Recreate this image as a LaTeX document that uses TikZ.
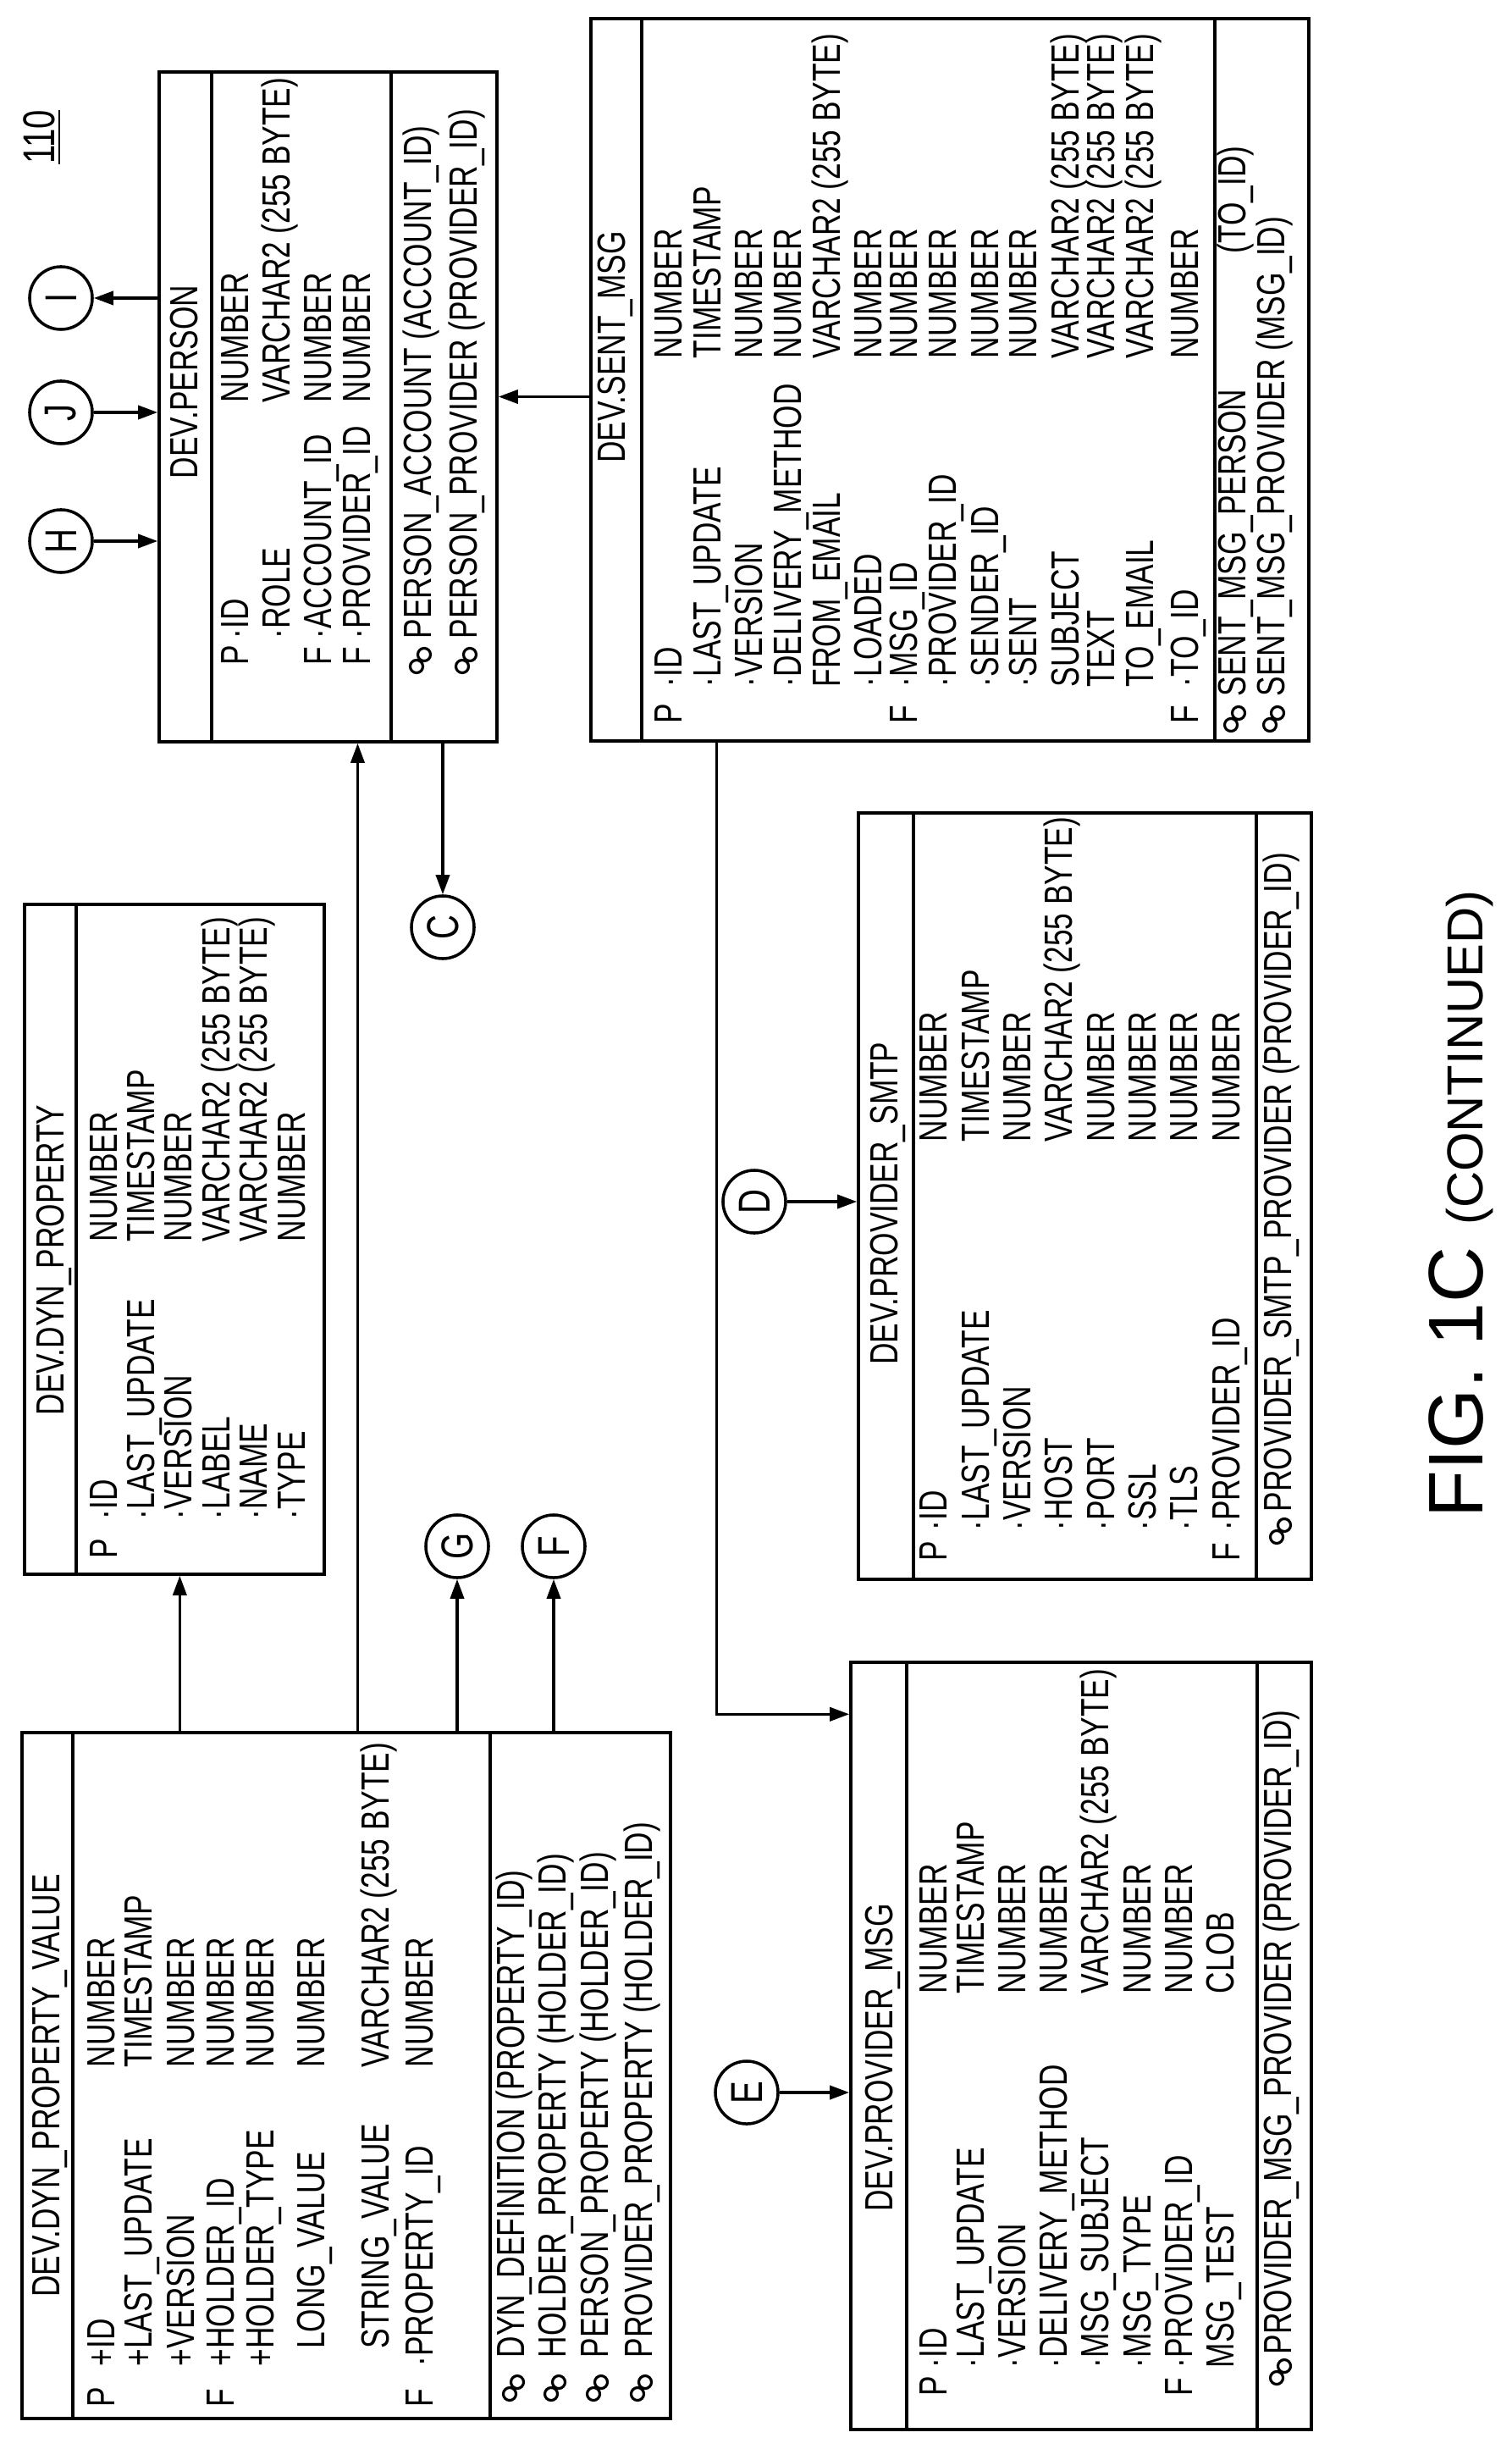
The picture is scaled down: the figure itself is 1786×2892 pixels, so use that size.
\documentclass[tikz,border=0pt]{standalone}
\usepackage{fontspec}
\setmainfont{Liberation Sans}[FakeStretch=0.76]
\newfontfamily\figfont{Liberation Sans}
\usetikzlibrary{positioning,shapes,fit,arrows.meta}
\tikzset{tbl/.style={draw,line width=1pt,inner sep=0pt},
  txt/.style={rotate=90,anchor=west,inner sep=0pt,text height=0.72em,text depth=0pt,font=\fontsize{13.2}{15}\selectfont},
  ttl/.style={txt,anchor=center},
  conn/.style={draw,circle,line width=1pt,minimum size=0.74cm,inner sep=0pt,font=\fontsize{15}{17}\selectfont},
  link/.style={line width=1pt,-{Triangle[length=2.3mm,width=1.6mm]}},
  sep/.style={line width=1pt}}
\newcommand{\keyicon}[2]{\draw[line width=0.9pt] (#1-5,#2+8) circle[radius=0.075cm] (#1+4,#2-6) circle[radius=0.075cm];}
\newcommand{\rl}[1]{\rotatebox{90}{#1}}

\begin{document}
\begin{tikzpicture}[x=0.01cm,y=-0.01cm]
\useasboundingbox (0,0) rectangle (1786,2892);

% DEV.DYN_PROPERTY_VALUE
\node[tbl,fit={(26,2046) (792,2856)}] (pv) {};
\draw[sep] (86,2046) -- (86,2856) (579,2046) -- (579,2856);
\node[ttl] (pv-t) at (58,2463) {DEV.DYN\_PROPERTY\_VALUE};
\foreach \x/\f/\n/\t [count=\i] in {123/P/+ID/NUMBER, 167//+LAST\_UPDATE/TIMESTAMP,
  217//+VERSION/NUMBER, 264/F/+HOLDER\_ID/NUMBER, 311//+HOLDER\_TYPE/NUMBER,
  371//\phantom{+}LONG\_VALUE/NUMBER, 447//\phantom{+}STRING\_VALUE/VARCHAR2 (255 BYTE),
  499/F/·PROPERTY\_ID/NUMBER}{
  \node[txt] (pv-f\i) at (\x,2843) {\f};
  \node[txt] (pv-n\i) at (\x,2795) {\n};
  \node[txt] (pv-y\i) at (\x,2442) {\t};}
\foreach \x/\k [count=\i] in {607/DYN\_DEFINITION (PROPERTY\_ID), 656/HOLDER\_PROPERTY (HOLDER\_ID),
  706/PERSON\_PROPERTY (HOLDER\_ID), 758/PROVIDER\_PROPERTY (HOLDER\_ID)}{
  \keyicon{\x}{2819}
  \node[txt] (pv-k\i) at (\x,2785) {\k};}

% DEV.DYN_PROPERTY
\node[tbl,fit={(29,1068) (383,1859)}] (dp) {};
\draw[sep] (90,1068) -- (90,1859);
\node[ttl] (dp-t) at (63,1488) {DEV.DYN\_PROPERTY};
\foreach \x/\f/\n/\t [count=\i] in {126/P/·ID/NUMBER, 170//·LAST\_UPDATE/TIMESTAMP,
  214//·VERSION/NUMBER, 259//·LABEL/VARCHAR2 (255 BYTE), 303//·NAME/VARCHAR2 (255 BYTE),
  348//·TYPE/NUMBER}{
  \node[txt] (dp-f\i) at (\x,1841) {\f};
  \node[txt] (dp-n\i) at (\x,1795) {\n};
  \node[txt] (dp-y\i) at (\x,1467) {\t};}

% DEV.PERSON
\node[tbl,fit={(188,85) (587,876)}] (ps) {};
\draw[sep] (250,85) -- (250,876) (462,85) -- (462,876);
\node[ttl] (ps-t) at (221,451) {DEV.PERSON};
\foreach \x/\f/\n/\t [count=\i] in {281/P/·ID/NUMBER, 330//·ROLE/VARCHAR2 (255 BYTE),
  379/F/·ACCOUNT\_ID/NUMBER, 425/F/·PROVIDER\_ID/NUMBER}{
  \node[txt] (ps-f\i) at (\x,786) {\f};
  \node[txt] (ps-n\i) at (\x,755) {\n};
  \node[txt] (ps-y\i) at (\x,476) {\t};}
\foreach \x/\k [count=\i] in {497/PERSON\_ACCOUNT (ACCOUNT\_ID), 551/PERSON\_PROVIDER (PROVIDER\_ID)}{
  \keyicon{\x}{779}
  \node[txt] (ps-k\i) at (\x,755) {\k};}

% DEV.SENT_MSG
\node[tbl,fit={(698,22) (1546,875)}] (sg) {};
\draw[sep] (758,22) -- (758,875) (1435,22) -- (1435,875);
\node[ttl] (sg-t) at (726,410) {DEV.SENT\_MSG};
\foreach \x/\f/\n/\t [count=\i] in {793/P/·ID/NUMBER, 839//·LAST\_UPDATE/TIMESTAMP,
  888//·VERSION/NUMBER, 934//·DELIVERY\_METHOD/NUMBER, 980//FROM\_EMAIL/VARCHAR2 (255 BYTE),
  1029//·LOADED/NUMBER, 1071/F/·MSG\_ID/NUMBER, 1117//·PROVIDER\_ID/NUMBER,
  1167//·SENDER\_ID/NUMBER, 1212//·SENT/NUMBER, 1262//SUBJECT/VARCHAR2 (255 BYTE),
  1304//TEXT/VARCHAR2 (255 BYTE), 1350//TO\_EMAIL/VARCHAR2 (255 BYTE), 1403/F/·TO\_ID/NUMBER}{
  \node[txt] (sg-f\i) at (\x,855) {\f};
  \node[txt] (sg-n\i) at (\x,812) {\n};
  \node[txt] (sg-y\i) at (\x,424) {\t};}
\keyicon{1459}{848}
\node[txt] (sg-k1) at (1459,823) {SENT\_MSG\_PERSON};
\node[txt,anchor=east] (sg-k1b) at (1459,172) {(TO\_ID)};
\keyicon{1505}{848}
\node[txt] (sg-k2) at (1505,823) {SENT\_MSG\_PROVIDER (MSG\_ID)};

% DEV.PROVIDER_SMTP
\node[tbl,fit={(1014,960) (1549,1865)}] (sm) {};
\draw[sep] (1079,960) -- (1079,1865) (1484,960) -- (1484,1865);
\node[ttl] (sm-t) at (1048,1421) {DEV.PROVIDER\_SMTP};
\foreach \x/\f/\n/\t [count=\i] in {1106/P/·ID/NUMBER, 1156//·LAST\_UPDATE/TIMESTAMP,
  1205//·VERSION/NUMBER, 1254//·HOST/VARCHAR2 (255 BYTE), 1304//·PORT/NUMBER,
  1353//·SSL/NUMBER, 1402//·TLS/NUMBER, 1452/F/·PROVIDER\_ID/NUMBER}{
  \node[txt] (sm-f\i) at (\x,1844) {\f};
  \node[txt] (sm-n\i) at (\x,1808) {\n};
  \node[txt] (sm-y\i) at (\x,1349) {\t};}
\keyicon{1513}{1807}
\node[txt] (sm-k1) at (1513,1786) {PROVIDER\_SMTP\_PROVIDER (PROVIDER\_ID)};

% DEV.PROVIDER_MSG
\node[tbl,fit={(1005,1963) (1549,2869)}] (pm) {};
\draw[sep] (1071,1963) -- (1071,2869) (1485,1963) -- (1485,2869);
\node[ttl] (pm-t) at (1042,2430) {DEV.PROVIDER\_MSG};
\foreach \x/\f/\n/\t [count=\i] in {1106/P/·ID/NUMBER, 1150//·LAST\_UPDATE/TIMESTAMP,
  1199//·VERSION/NUMBER, 1248//·DELIVERY\_METHOD/NUMBER, 1297//·MSG\_SUBJECT/VARCHAR2 (255 BYTE),
  1347//·MSG\_TYPE/NUMBER, 1396/F/·PROVIDER\_ID/NUMBER, 1445//MSG\_TEST/CLOB}{
  \node[txt] (pm-f\i) at (\x,2830) {\f};
  \node[txt] (pm-n\i) at (\x,2797) {\n};
  \node[txt] (pm-y\i) at (\x,2355) {\t};}
\keyicon{1513}{2800}
\node[txt] (pm-k1) at (1513,2781) {PROVIDER\_MSG\_PROVIDER (PROVIDER\_ID)};

% off-page connectors
\node[conn] (h) at (72,639) {\rl{H}};
\node[conn] (j) at (72,487) {\rl{J}};
\node[conn] (i) at (72,352) {\rl{I}};
\node[conn] (c) at (523,1095) {\rl{C}};
\node[conn] (g) at (540,1826) {\rl{G}};
\node[conn] (f) at (654,1826) {\rl{F}};
\node[conn] (d) at (891,1419) {\rl{D}};
\node[conn] (e) at (882,2471) {\rl{E}};
\node[txt,anchor=center,font=\fontsize{15}{17}\selectfont] (ref) at (52,162) {\underline{110}};

% links
\draw[link] ([xshift=1.88cm]pv.north west) coordinate (a1) -- (a1 |- dp.south);
\draw[link] ([xshift=3.98cm]pv.north west) coordinate (a2) -- (a2 |- ps.south);
\draw[link] (g |- pv.north) -- (g);
\draw[link] (f |- pv.north) -- (f);
\draw[link] (c |- ps.south) -- (c);
\draw[link] (h) -- (h -| ps.west);
\draw[link] (j) -- (j -| ps.west);
\draw[link] (i -| ps.west) -- (i);
\draw[link] ([yshift=-4.48cm]sg.north west) coordinate (a3) -- (a3 -| ps.east);
\draw[link] ([xshift=1.5cm]sg.south west) |- ([yshift=-0.63cm]pm.north west);
\draw[link] (d) -- (d -| sm.west);
\draw[link] (e) -- (e -| pm.west);

\node[rotate=90,font=\figfont\fontsize{26}{28}\selectfont] (fig) at (1726,1422)
  {FIG. 1C {\fontsize{17}{19}\selectfont (CONTINUED)}};
\end{tikzpicture}
\end{document}
